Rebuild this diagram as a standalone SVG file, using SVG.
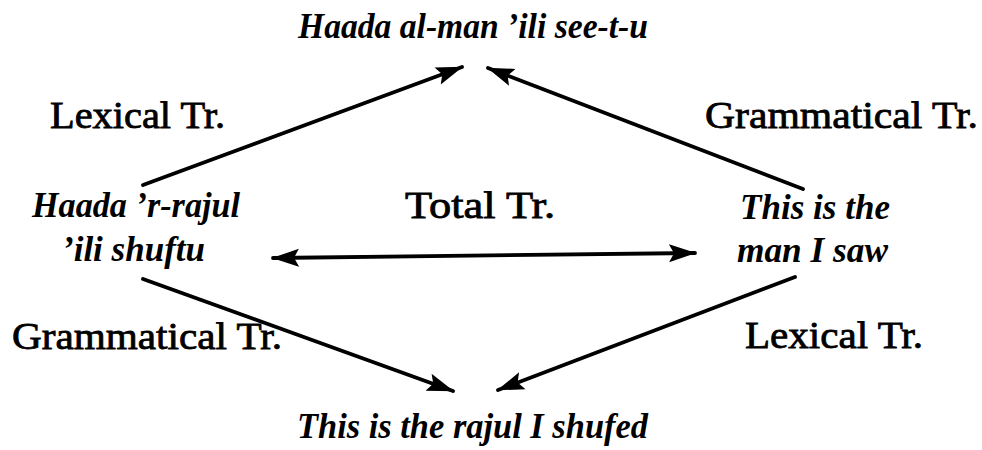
<svg xmlns="http://www.w3.org/2000/svg" width="982" height="450" viewBox="0 0 982 450">
<defs>
<style>
.r{font-family:"Liberation Serif",serif;font-size:38px;fill:#000;stroke:#000;stroke-width:0.8}
.i{font-family:"Liberation Serif",serif;font-style:italic;font-weight:bold;font-size:36px;fill:#000}
.c{stroke:#000;stroke-width:3.8;fill:none;stroke-linecap:round}
</style>
<marker id="ah" markerUnits="userSpaceOnUse" markerWidth="28" markerHeight="20" refX="26" refY="9" orient="auto-start-reverse" viewBox="0 0 28 18">
<path d="M0,0 L27,9 L0,18 L5,9 z" fill="#000"/>
</marker>
</defs>
<rect width="982" height="450" fill="#fff"/>
<g id="connectors">
<line class="c" x1="143" y1="185" x2="462" y2="67" marker-end="url(#ah)"/>
<line class="c" x1="803" y1="189" x2="488" y2="68" marker-end="url(#ah)"/>
<line class="c" x1="143" y1="279" x2="453" y2="391" marker-end="url(#ah)"/>
<line class="c" x1="795" y1="277" x2="498" y2="390" marker-end="url(#ah)"/>
<line class="c" x1="273" y1="258" x2="695" y2="253" marker-start="url(#ah)" marker-end="url(#ah)"/>
</g>
<g id="node-top"><text class="i" x="298" y="38" textLength="350" lengthAdjust="spacingAndGlyphs">Haada al-man ’ili see-t-u</text></g>
<g id="node-left">
<text class="i" x="32" y="217" textLength="208" lengthAdjust="spacingAndGlyphs">Haada ’r-rajul</text>
<text class="i" x="62" y="261" textLength="143" lengthAdjust="spacingAndGlyphs">’ili shuftu</text>
</g>
<g id="node-right">
<text class="i" x="740" y="219" textLength="150" lengthAdjust="spacingAndGlyphs">This is the</text>
<text class="i" x="737" y="262" textLength="151" lengthAdjust="spacingAndGlyphs">man I saw</text>
</g>
<g id="node-bottom"><text class="i" x="297" y="438" textLength="351" lengthAdjust="spacingAndGlyphs">This is the rajul I shufed</text></g>
<g id="labels">
<text class="r" x="50" y="128" textLength="175" lengthAdjust="spacingAndGlyphs">Lexical Tr.</text>
<text class="r" x="705" y="128" textLength="273" lengthAdjust="spacingAndGlyphs">Grammatical Tr.</text>
<text class="r" x="405" y="218" textLength="150" lengthAdjust="spacingAndGlyphs">Total Tr.</text>
<text class="r" x="12" y="349" textLength="270" lengthAdjust="spacingAndGlyphs">Grammatical Tr.</text>
<text class="r" x="745" y="348" textLength="178" lengthAdjust="spacingAndGlyphs">Lexical Tr.</text>
</g>
</svg>
